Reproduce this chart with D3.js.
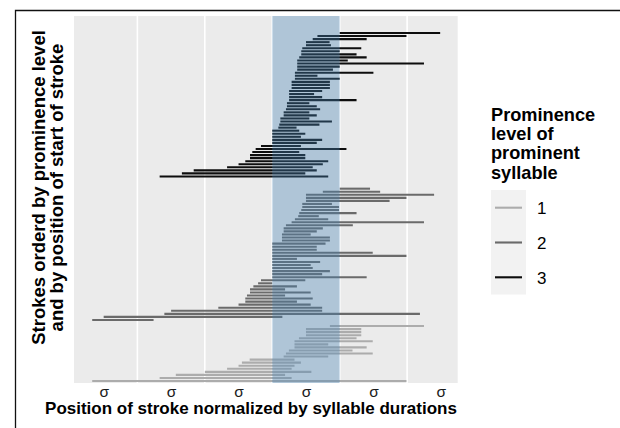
<!doctype html>
<html>
<head>
<meta charset="utf-8" />
<script src="https://cdn.jsdelivr.net/npm/d3@7"></script>
<style>
  body { margin: 0; background: #fff; }
  svg { display: block; font-family: "Liberation Sans", Arial, sans-serif; }
</style>
</head>
<body>
<div id="chart"></div>
<script>
// strokes per prominence level, ordered top to bottom (x in syllable units, 0 = prominent syllable start)
var level3Start = [1.0, 0.67, 0.60, 0.50, 0.50, 0.445, 0.43, 0.43, 0.40, 0.37, 0.37, 0.37, 0.37, 0.336, 0.336, 0.336,
  0.287, 0.287, 0.287, 0.25, 0.25, 0.25, 0.25, 0.218, 0.218, 0.203, 0.169, 0.169, 0.12, 0.12, 0.104, 0.09,
  0, 0, 0, 0, 0, -0.167, -0.246, -0.296, -0.33, -0.33, -0.40, -0.50, -0.67, -1.165, -1.34, -1.67];
var level3End = [2.49, 1.99, 1.40, 0.85, 0.87, 1.32, 1.0, 1.25, 1.40, 1.12, 2.25, 1.0, 0.90, 1.50, 0.67, 1.0,
  0.855, 0.855, 0.855, 0.74, 0.62, 0.74, 1.25, 0.55, 0.66, 0.71, 0.55, 0.66, 0.55, 0.885, 0.70, 0.36,
  0.40, 0.49, 0.425, 0.74, 0.66, 0.425, 1.10, 0.40, 0.49, 0.49, 0.83, 0.75, 0.60, 0.66, 0.49, 0.83];

var level2Start = [1.0, 0.75, 0.50, 0.50, 0.50, 0.445, 0.445, 0.43, 0.40, 0.385, 0.336, 0.287, 0.203, 0.169, 0.169, 0.144, 0.144, 0.144,
  0, 0, 0, 0, 0, 0, 0, 0, 0, 0, 0, 0,
  -0.167, -0.21, -0.28, -0.33, -0.33, -0.375, -0.40, -0.40, -0.50, -0.80, -1.50, -1.60, -2.50, -2.67];
var level2End = [1.45, 1.60, 2.40, 1.99, 1.74, 0.885, 0.99, 0.99, 1.25, 0.69, 0.83, 2.25, 1.195, 0.75, 0.66, 0.57, 0.855, 0.855,
  0.79, 0.66, 0.66, 1.49, 1.99, 0.366, 0.71, 0.57, 0.60, 0.855, 0.74, 1.40,
  0.49, 0.0, 0.366, 0.19, 0.57, 0.19, 0.60, 0.366, 0.57, 0.74, 0.74, 2.19, 0.15, -1.76];

var level1Start = [0.855, 0.50, 0.50, 0.50, 0.396, 0.33, 0.33, 0.33, 0.247, 0.203, 0.169,
  -0.335, -0.45, -0.50, -0.67, -1.0, -1.43, -1.67, -2.67];
var level1End = [2.25, 1.32, 1.32, 1.32, 1.25, 1.49, 0.83, 1.40, 1.19, 1.49, 0.83,
  0.33, 0.425, 0.33, 0.287, 0.58, 0.19, 0.287, 1.99];

var levels = ['1', '2', '3'];
var levelFirstRank = { '3': 1, '2': 52, '1': 97 };
var syllableBounds = [-2, -1, 0, 1, 2];
var tickPositions = [-2.5, -1.5, -0.5, 0.5, 1.5, 2.5];
var tickLabel = 'σ';
var prominentSyllable = [0, 1];

var strokes = [];
function addLevel(level, starts, ends) {
  starts.forEach(function (s, i) {
    strokes.push({ level: level, rank: levelFirstRank[level] + i, start: s, end: ends[i] });
  });
}
addLevel('3', level3Start, level3End);
addLevel('2', level2Start, level2End);
addLevel('1', level1Start, level1End);

var W = 620, H = 428;
var panel = { left: 74, right: 457.7, top: 16, bottom: 383 };

var svg = d3.select('#chart').append('svg')
  .attr('width', W).attr('height', H);

var x = d3.scaleLinear().domain([-2.94, 2.75]).range([panel.left, panel.right]);
var y = d3.scaleLinear().domain([-4.57, 115.66]).range([panel.top, panel.bottom]);
var colour = d3.scaleOrdinal().domain(levels).range(['#acacac', '#6a6a6a', '#0d0d0d']);

// outer frame (partly cut off)
svg.append('path')
  .attr('d', 'M15.5,428 L15.5,10.5 L620,10.5')
  .attr('fill', 'none').attr('stroke', '#111').attr('stroke-width', 1.3);

// panel
svg.append('rect')
  .attr('x', panel.left).attr('y', panel.top)
  .attr('width', panel.right - panel.left).attr('height', panel.bottom - panel.top)
  .attr('fill', '#ebebeb');

svg.append('g').selectAll('line').data(syllableBounds).join('line')
  .attr('x1', d => x(d)).attr('x2', d => x(d))
  .attr('y1', panel.top).attr('y2', panel.bottom)
  .attr('stroke', '#fff').attr('stroke-width', 1.6);

svg.append('g').selectAll('line').data(strokes).join('line')
  .attr('x1', d => x(d.start)).attr('x2', d => x(d.end))
  .attr('y1', d => y(d.rank)).attr('y2', d => y(d.rank))
  .attr('stroke', d => colour(d.level))
  .attr('stroke-width', 2.1);

svg.append('rect')
  .attr('x', x(prominentSyllable[0])).attr('y', panel.top)
  .attr('width', x(prominentSyllable[1]) - x(prominentSyllable[0]))
  .attr('height', panel.bottom - panel.top)
  .attr('fill', 'steelblue').attr('fill-opacity', 0.36);

// x axis labels
var xAxis = d3.axisBottom(x).tickValues(tickPositions).tickFormat(() => tickLabel).tickSize(0).tickPadding(3);
var gx = svg.append('g').attr('transform', 'translate(0,' + panel.bottom + ')').call(xAxis);
gx.select('.domain').remove();
gx.selectAll('text').attr('font-size', 15.5).attr('fill', '#1a1a1a').attr('font-family', '"Liberation Sans", Arial, sans-serif');

// axis titles
svg.append('text')
  .attr('x', 251).attr('y', 414)
  .attr('text-anchor', 'middle')
  .attr('font-size', 17).attr('font-weight', 'bold').attr('fill', '#000')
  .text('Position of stroke normalized by syllable durations');

var yt = svg.append('text')
  .attr('transform', 'translate(44.5,187.5) rotate(-90)')
  .attr('text-anchor', 'middle')
  .attr('font-size', 18.5).attr('font-weight', 'bold').attr('fill', '#000');
yt.append('tspan').attr('x', 0).attr('dy', 0).text('Strokes orderd by prominence level');
yt.append('tspan').attr('x', 0).attr('dy', 18.3).text('and by position of start of stroke');

// legend
var legend = svg.append('g');
var titleLines = ['Prominence', 'level of', 'prominent', 'syllable'];
legend.append('text')
  .attr('font-size', 18.2).attr('font-weight', 'bold').attr('fill', '#000')
  .selectAll('tspan').data(titleLines).join('tspan')
  .attr('x', 491).attr('y', (d, i) => 120.5 + i * 19.4)
  .text(d => d);

legend.append('rect')
  .attr('x', 491).attr('y', 190).attr('width', 35).attr('height', 104.5)
  .attr('fill', '#f2f2f2');

var keys = legend.selectAll('g.key').data(levels).join('g')
  .attr('class', 'key')
  .attr('transform', (d, i) => 'translate(491,' + (207.7 + i * 34.8) + ')');
keys.append('line')
  .attr('x1', 4).attr('x2', 31).attr('y1', 0).attr('y2', 0)
  .attr('stroke', d => colour(d)).attr('stroke-width', 2.1);
keys.append('text')
  .attr('x', 46).attr('y', 6.5)
  .attr('font-size', 17).attr('fill', '#000')
  .text(d => d);
</script>
</body>
</html>
